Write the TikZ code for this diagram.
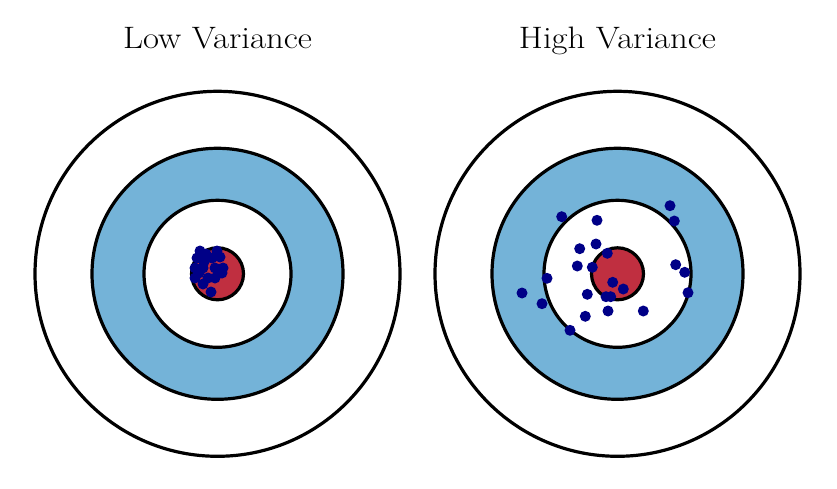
\documentclass[tikz,border=0pt]{standalone}
\definecolor{ringblue}{RGB}{116,179,216}
\definecolor{bullred}{RGB}{192,47,64}
\definecolor{shotblue}{RGB}{0,0,135}
\newcommand{\widetitle}[1]{\scalebox{1.12}[1]{#1}}
\begin{document}
\begin{tikzpicture}[x=1pt,y=-1pt,
  ring/.style={draw=black,line width=3.2pt},
  shot/.style={fill=shotblue},
  title/.style={font=\fontsize{31}{36}\selectfont,anchor=base,inner sep=0pt}]
\useasboundingbox (0,0) rectangle (837,489);
% Left target
\begin{scope}[shift={(217.5,273.8)}]
  \draw[ring,fill=white] (0,0) circle (182.5);
  \draw[ring,fill=ringblue] (0,0) circle (125.5);
  \draw[ring,fill=white] (0,0) circle (73.5);
  \draw[ring,fill=bullred] (0,0) circle (26);
\end{scope}
\foreach \x/\y in {200/251,217/251,197/258,204/262,212/258,220/257,195/268,203/268,215/268,223/268,195/278,203/284,211/292,222/273,208/278,215/278,206/254,199/273}
  \fill[shot] (\x,\y) circle (5.5);
% Right target
\begin{scope}[shift={(617.5,273.8)}]
  \draw[ring,fill=white] (0,0) circle (182.5);
  \draw[ring,fill=ringblue] (0,0) circle (125.5);
  \draw[ring,fill=white] (0,0) circle (73.5);
  \draw[ring,fill=bullred] (0,0) circle (26);
\end{scope}
\foreach \x/\y in {670/205.7,674.3/221,561.7/216.7,597/220.3,596/244,579.7/248.7,607.3/253.3,577.3/266,592.3/267.3,547/278.3,675.7/264.7,684.7/272.3,612.7/282.3,623.3/289,522/293,542/303.7,587.3/294.3,606/296.7,610.7/296.7,688/292.7,585.3/316.3,608/311,643.3/311,570/330.3}
  \fill[shot] (\x,\y) circle (5.5);
\node[title] (lowtitle) at (217.5,48.5) {\widetitle{Low Variance}};
\node[title] (hightitle) at (617.5,48.5) {\widetitle{High Variance}};
\end{tikzpicture}
\end{document}
